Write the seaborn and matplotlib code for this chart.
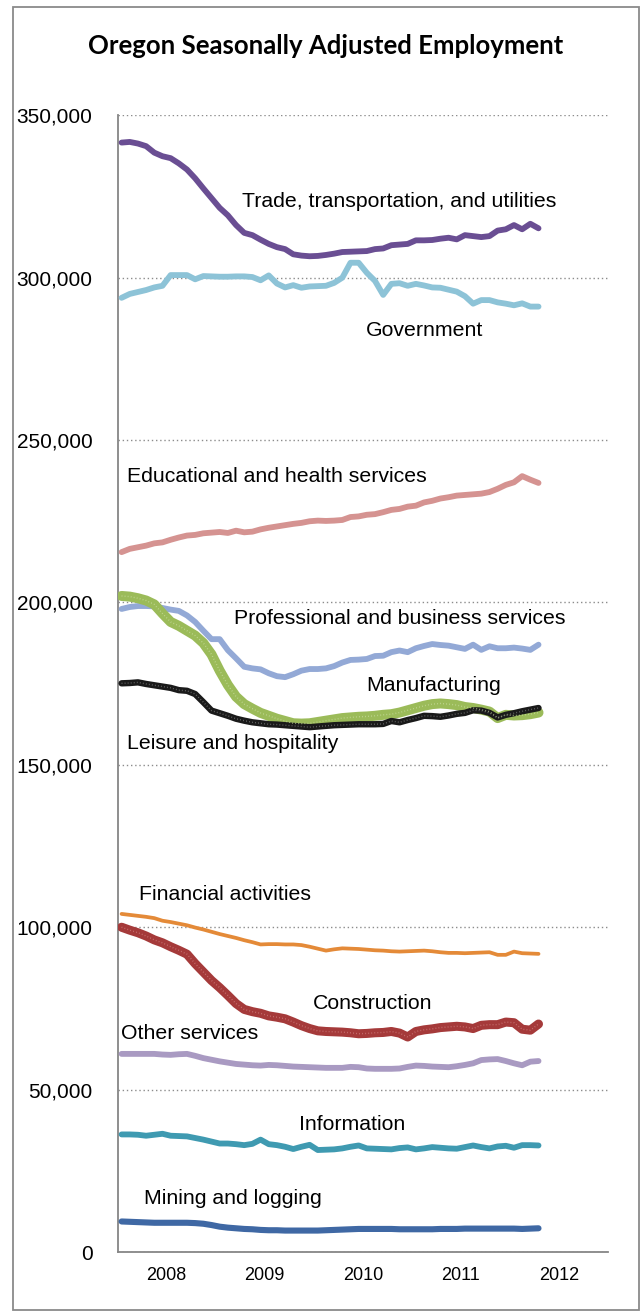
import numpy as np
import pandas as pd
import matplotlib
matplotlib.use("Agg")
import matplotlib.pyplot as plt
import seaborn as sns
from matplotlib.patches import Rectangle
from matplotlib.ticker import FuncFormatter, FixedLocator

# ---------------- data (monthly, Jan 2008 - Apr 2012) ----------------
years = [2008, 2009, 2010, 2011, 2012]
n_months = 52

trade = [341600, 341800, 341300, 340500, 338500, 337400, 336800, 335200, 333300, 330600,
         327500, 324500, 321500, 319200, 316200, 313800, 313100, 311700, 310400, 309400,
         308800, 307200, 306800, 306600, 306700, 307000, 307400, 307900, 308000, 308100,
         308200, 308800, 309000, 310000, 310200, 310400, 311500, 311500, 311600, 312000,
         312300, 311800, 313100, 312800, 312500, 312800, 314500, 314900, 316200, 314900,
         316600, 315200]
government = [293800, 295000, 295600, 296200, 297000, 297500, 300800, 300800, 300800, 299500,
              300500, 300400, 300300, 300300, 300400, 300400, 300200, 299200, 300700, 298200,
              297000, 297700, 296900, 297300, 297400, 297500, 298400, 300000, 304600, 304600,
              301500, 299000, 294700, 298100, 298300, 297500, 298100, 297600, 297000, 296900,
              296300, 295700, 294300, 292000, 293100, 293100, 292400, 292000, 291500, 292100,
              291100, 291100]
educational = [215500, 216500, 217000, 217500, 218200, 218500, 219300, 220000, 220600, 220800,
               221300, 221500, 221700, 221400, 222100, 221600, 221800, 222500, 223000, 223400,
               223800, 224200, 224500, 225000, 225200, 225100, 225200, 225400, 226300, 226500,
               227000, 227200, 227800, 228500, 228800, 229500, 229800, 230800, 231300, 232000,
               232400, 232900, 233100, 233300, 233500, 234000, 235000, 236200, 237000, 238900,
               237800, 236800]
professional = [198000, 198600, 198900, 198900, 198800, 198300, 197800, 197400, 196000, 194000,
                191300, 188700, 188700, 185300, 182800, 180200, 179700, 179400, 178200, 177300,
                177000, 177900, 179000, 179500, 179500, 179700, 180400, 181500, 182300, 182400,
                182600, 183500, 183600, 184700, 185200, 184700, 185900, 186600, 187200, 186900,
                186700, 186200, 185700, 187000, 185400, 186500, 185900, 185900, 186100, 185800,
                185400, 187000]
manufacturing = [202000, 201800, 201300, 200600, 199400, 196600, 194000, 192800, 191300, 189800,
                 187500, 184000, 179000, 174600, 171000, 168700, 167300, 166000, 165100, 164200,
                 163500, 162800, 162700, 162800, 163200, 163600, 164000, 164400, 164600, 164800,
                 164900, 165100, 165400, 165600, 166100, 166800, 167500, 168200, 168700, 168900,
                 168700, 168400, 167800, 167500, 167000, 166400, 164400, 165400, 165200, 165300,
                 165600, 166100]
leisure = [175100, 175200, 175400, 174900, 174500, 174100, 173700, 173000, 172800, 171800,
           169300, 166700, 165900, 165100, 164200, 163600, 163100, 162800, 162500, 162400,
           162200, 162000, 161800, 161600, 161800, 162000, 162200, 162300, 162400, 162500,
           162500, 162500, 162600, 163500, 163100, 163800, 164400, 165100, 165000, 164800,
           165200, 165700, 166000, 166800, 166700, 166000, 164600, 165400, 165900, 166500,
           167000, 167500]
financial = [104100, 103800, 103500, 103200, 102800, 102000, 101600, 101100, 100600, 99900,
             99300, 98600, 97900, 97300, 96700, 96000, 95400, 94700, 94800, 94800,
             94700, 94700, 94500, 94000, 93400, 92800, 93200, 93500, 93400, 93300,
             93100, 92900, 92800, 92600, 92500, 92600, 92700, 92800, 92600, 92300,
             92100, 92100, 92000, 92100, 92200, 92300, 91500, 91500, 92500, 92000,
             91900, 91800]
construction = [100000, 99100, 98300, 97300, 96100, 95200, 94000, 92900, 91700, 88800,
                86200, 83600, 81400, 79000, 76500, 74700, 74000, 73500, 72700, 72300,
                71800, 70800, 69700, 68800, 68100, 67900, 67800, 67700, 67500, 67200,
                67300, 67500, 67600, 67900, 67400, 66200, 67900, 68400, 68700, 69100,
                69300, 69500, 69300, 68800, 69800, 70000, 70000, 70800, 70600, 68600,
                68300, 70200]
other = [61000, 61000, 61000, 61000, 61000, 60800, 60700, 60900, 61000, 60400,
         59700, 59200, 58700, 58300, 57900, 57700, 57500, 57400, 57600, 57500,
         57300, 57100, 57000, 56900, 56800, 56700, 56700, 56700, 57000, 56900,
         56500, 56400, 56400, 56400, 56500, 57000, 57400, 57300, 57100, 57000,
         56900, 57200, 57600, 58100, 59100, 59300, 59400, 58800, 58100, 57500,
         58600, 58800]
information = [36200, 36200, 36100, 35800, 36100, 36400, 35800, 35700, 35600, 35100,
               34600, 34000, 33400, 33400, 33200, 32900, 33300, 34600, 33200, 32900,
               32400, 31700, 32400, 33000, 31400, 31500, 31600, 31900, 32400, 32800,
               31900, 31800, 31700, 31600, 32000, 32200, 31600, 31900, 32300, 32100,
               31900, 31800, 32300, 32800, 32300, 31900, 32500, 32700, 32100, 32900,
               32900, 32800]
mining = [9400, 9300, 9200, 9100, 9000, 9000, 9000, 9000, 9000, 8900,
          8700, 8300, 7800, 7500, 7300, 7100, 7000, 6800, 6700, 6700,
          6600, 6600, 6600, 6600, 6600, 6700, 6800, 6900, 7000, 7100,
          7100, 7100, 7100, 7100, 7000, 7000, 7000, 7000, 7000, 7100,
          7100, 7100, 7200, 7200, 7200, 7200, 7200, 7200, 7200, 7100,
          7200, 7300]

series_names = ["Trade, transportation, and utilities", "Government",
                "Educational and health services", "Professional and business services",
                "Manufacturing", "Leisure and hospitality", "Financial activities",
                "Construction", "Other services", "Information", "Mining and logging"]
series_values = [trade, government, educational, professional, manufacturing, leisure,
                 financial, construction, other, information, mining]

# ---------------- styling ----------------
styles = {
    "Trade, transportation, and utilities": dict(color="#6A4E93", lw=4.2),
    "Government": dict(color="#8DC3D7", lw=4.2),
    "Educational and health services": dict(color="#D59391", lw=4.2),
    "Professional and business services": dict(color="#93A9D6", lw=4.2),
    "Manufacturing": dict(color="#9BBB59", lw=7.2, tex="#C9DDA0"),
    "Leisure and hospitality": dict(color="#1A1A1A", lw=4.6, tex="#7F7F7F"),
    "Financial activities": dict(color="#E48A38", lw=2.7),
    "Construction": dict(color="#A53A3A", lw=6.5, tex="#D08080"),
    "Other services": dict(color="#A99AC2", lw=4.2),
    "Information": dict(color="#3F9AB1", lw=4.2),
    "Mining and logging": dict(color="#3F68A4", lw=4.4),
}

label_pos = {
    "Trade, transportation, and utilities": (2009.265, 323600),
    "Government": (2010.536, 283600),
    "Educational and health services": (2008.097, 238900),
    "Professional and business services": (2009.187, 195000),
    "Manufacturing": (2010.536, 174400),
    "Leisure and hospitality": (2008.092, 156600),
    "Financial activities": (2008.223, 110000),
    "Construction": (2009.989, 76400),
    "Other services": (2008.036, 67150),
    "Information": (2009.846, 39200),
    "Mining and logging": (2008.269, 16400),
}

xvals = 2008 + (np.arange(n_months) + 0.5) / 12.0

frames = []
for name, vals in zip(series_names, series_values):
    frames.append(pd.DataFrame({"x": xvals, "value": vals, "series": name}))
df = pd.concat(frames, ignore_index=True)

sns.set_style("white")
plt.rcParams['font.family'] = ['Liberation Sans', 'DejaVu Sans']

W, H = 644, 1312
fig = plt.figure(figsize=(W / 100, H / 100), dpi=100)
ax_left, ax_right, ax_top, ax_bottom = 117.5, 608, 115.3, 1252
ax = fig.add_axes([ax_left / W, (H - ax_bottom) / H,
                   (ax_right - ax_left) / W, (ax_bottom - ax_top) / H])

for name in series_names:
    st = styles[name]
    sub = df[df["series"] == name]
    sns.lineplot(data=sub, x="x", y="value", ax=ax, color=st["color"],
                 linewidth=st["lw"], solid_capstyle="round", solid_joinstyle="round",
                 legend=False, zorder=3)
    if "tex" in st:
        sns.lineplot(data=sub, x="x", y="value", ax=ax, color=st["tex"],
                     linewidth=1.0, linestyle=(0, (0.6, 1.6)), legend=False,
                     alpha=0.8, zorder=3.1)

for name in series_names:
    lx, ly = label_pos[name]
    ax.text(lx, ly, name, ha="left", va="center", fontsize=15.3, color="#000000")

ax.set_xlim(2008, 2013)
ax.set_ylim(0, 350000)
ax.set_xlabel("")
ax.set_ylabel("")

ax.yaxis.set_major_locator(FixedLocator(np.arange(0, 350001, 50000)))
ax.yaxis.set_major_formatter(FuncFormatter(lambda v, p: f"{int(v):,}"))
ax.tick_params(axis="y", length=0, pad=18, labelsize=15, labelcolor="#000000")

ax.xaxis.set_major_locator(FixedLocator([2008, 2009, 2010, 2011, 2012, 2013]))
ax.xaxis.set_major_formatter(FuncFormatter(lambda v, p: ""))
ax.xaxis.set_minor_locator(FixedLocator([y + 0.5 for y in years]))
ax.xaxis.set_minor_formatter(FuncFormatter(lambda v, p: str(int(v))))
ax.tick_params(axis="x", which="major", length=4, width=1, color="#868686", direction="out")
ax.tick_params(axis="x", which="minor", length=0, pad=11, labelsize=13, labelcolor="#000000")

ax.yaxis.grid(True, linestyle=(0, (1, 2)), color="#8C8C8C", linewidth=1.0)
ax.xaxis.grid(False)
ax.set_axisbelow(True)
for side in ["top", "right"]:
    ax.spines[side].set_visible(False)
for side in ["left", "bottom"]:
    ax.spines[side].set_color("#868686")
    ax.spines[side].set_linewidth(1.3)

fig.text(326 / W, 1 - 46 / H, "Oregon Seasonally Adjusted Employment",
         ha="center", va="center", fontsize=18.5, fontweight="bold",
         family=["Lato", "DejaVu Sans"], color="#000000")

fig.add_artist(Rectangle((13 / W, 1 - 1310 / H), (639 - 13) / W, (1310 - 7) / H,
                         transform=fig.transFigure, fill=False, edgecolor="#8A8A8A",
                         linewidth=1.3))

fig.savefig("out.png", dpi=100)
